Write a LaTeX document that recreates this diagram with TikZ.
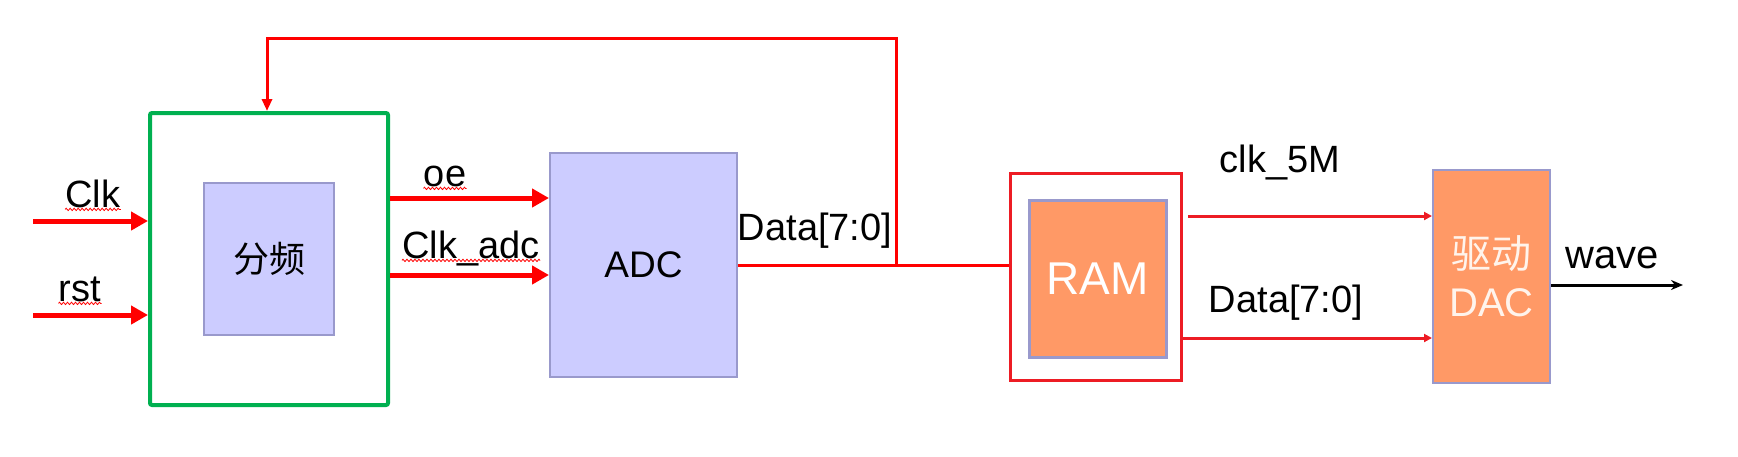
\documentclass[tikz,border=0pt]{standalone}
\usepackage{fontspec}
\setmainfont{Liberation Sans}
\newfontfamily\cjk{Noto Sans CJK SC}
\usepackage{xcolor}
\usetikzlibrary{positioning,calc,arrows.meta,decorations.pathmorphing}
\definecolor{sigred}{HTML}{FF0000}
\definecolor{boxred}{HTML}{ED1C24}
\definecolor{grn}{HTML}{00B050}
\definecolor{lav}{HTML}{CCCCFF}
\definecolor{lavline}{HTML}{9999CC}
\definecolor{ramorange}{HTML}{FF9966}
\definecolor{paletext}{HTML}{FFF4EC}

\begin{document}
\begin{tikzpicture}[
    x=0.5pt, y=-0.5pt,
    inblock/.style={rectangle, draw=lavline, line width=1pt, fill=lav, align=center, inner sep=0pt},
    lbl/.style={anchor=base, inner sep=0pt, font=\fontsize{19}{23}\selectfont},
    sig/.style={draw=sigred, line width=2.5pt, -{Triangle[length=8.5pt,width=9pt]}},
    fbline/.style={draw=sigred, line width=1.5pt},
    bus/.style={draw=boxred, line width=1.5pt, -{Triangle[length=4pt,width=4pt]}},
    squig/.style={draw=sigred, line width=0.4pt, decorate, decoration={zigzag, amplitude=0.6pt, segment length=2pt}}
]
\useasboundingbox (0,0) rectangle (1738,456);

\node[draw=grn, line width=2pt, rounded corners=1pt, minimum width=119pt, minimum height=146pt] (fp) at (269,259) {};
\node[inblock, minimum width=65pt, minimum height=76pt, font=\cjk\fontsize{18}{22}\selectfont] (div) at (fp.center) {分频};
\node[inblock, minimum width=93.5pt, minimum height=112pt, font=\fontsize{18.5}{22}\selectfont] (adc) at (643.5,265) {ADC};
\node[draw=boxred, line width=1.5pt, minimum width=85.5pt, minimum height=103.5pt] (ramout) at (1095.5,276.5) {};
\node[inblock, fill=ramorange, line width=1.5pt, minimum width=68.5pt, minimum height=78.5pt, text=white, font=\fontsize{23}{27}\selectfont] (ram) at (1097.5,278.5) {RAM};
\node[inblock, fill=ramorange, minimum width=58.5pt, minimum height=106.5pt, text=paletext, font=\fontsize{20}{24}\selectfont] (dac) at (1491.5,276.5) {{\cjk 驱动}\\DAC};

\node[lbl] (clklbl) at (93,207) {Clk};
\node[lbl] (rstlbl) at (80,301) {rst};
\node[lbl] (oelbl) at (445,186) {oe};
\node[lbl] (clkadclbl) at (471,258) {Clk\_adc};
\node[lbl] (datalbl) at (815,240) {Data[7:0]};
\node[lbl] (clk5lbl) at (1280,172) {clk\_5M};
\node[lbl] (data2lbl) at (1286,312) {Data[7:0]};
\node[lbl, font=\fontsize{20}{24}\selectfont] (wavelbl) at (1612,268) {wave};

\foreach \l in {clklbl,rstlbl,oelbl,clkadclbl}
    \draw[squig] ([yshift=-1.2pt]\l.base west) -- ([yshift=-1.2pt]\l.base east);

\coordinate (clkin) at (33,221);
\coordinate (rstin) at (33,315);
\coordinate (oey) at (0,198);
\coordinate (cay) at (0,275);
\draw[sig] (clkin) -- (clkin -| fp.west);
\draw[sig] (rstin) -- (rstin -| fp.west);
\draw[sig] (fp.east |- oey) -- (adc.west |- oey);
\draw[sig] (fp.east |- cay) -- (adc.west |- cay);

\coordinate (jn) at (896,265);
\coordinate (fbtop) at (267,38);
\draw[fbline, -{Triangle[length=6pt,width=5pt]}] (adc.east) -- (jn) |- (fbtop) -- (fbtop |- fp.north);
\draw[fbline] (jn) -- (jn -| ramout.west);

\coordinate (clk5) at (1188,216);
\coordinate (dq) at (0,338);
\draw[bus] (clk5) -- (clk5 -| dac.west);
\draw[bus] (ramout.east |- dq) -- (dac.west |- dq);

\coordinate (wv) at (1683,285);
\draw[line width=1.5pt, -{Stealth[length=6pt,width=5pt]}] (dac.east |- wv) -- (wv);
\end{tikzpicture}
\end{document}
